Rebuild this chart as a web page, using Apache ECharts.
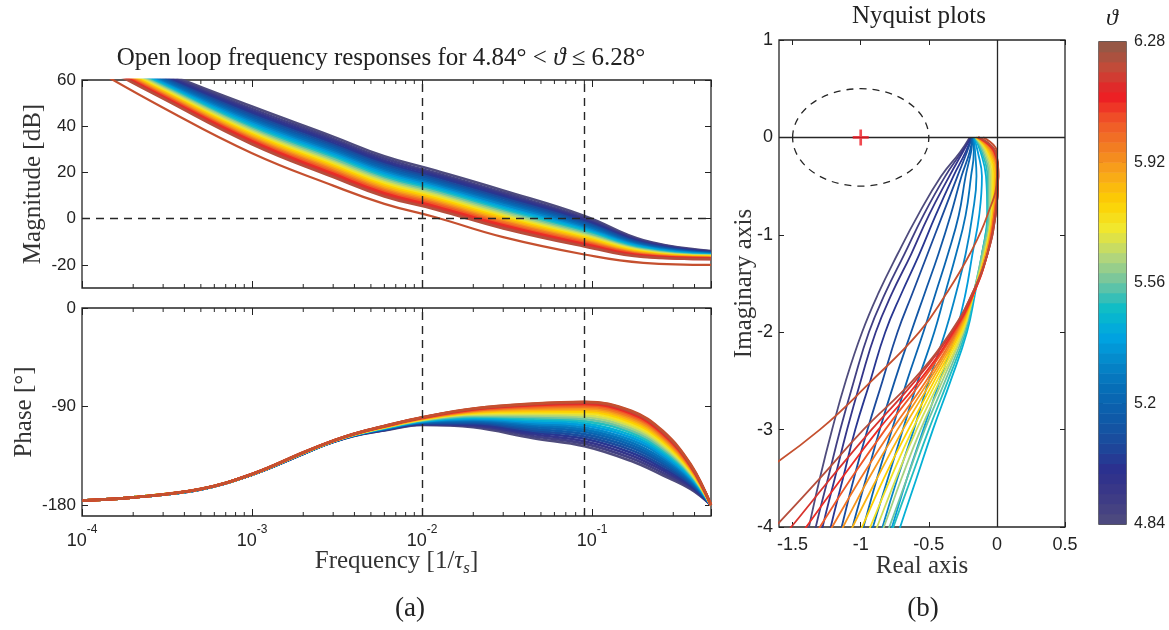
<!DOCTYPE html>
<html><head><meta charset="utf-8">
<script src="https://cdn.jsdelivr.net/npm/echarts@6/dist/echarts.min.js"></script>
<style>html,body{margin:0;padding:0;background:#fff}#c{width:1169px;height:630px}</style>
</head><body><div id="c"></div>
<script>
// ---------- data ----------
const theta = [4.84, 4.90, 4.96, 5.02, 5.08, 5.14, 5.20, 5.26, 5.32, 5.38, 5.44, 5.50, 5.56, 5.62, 5.68, 5.74, 5.80, 5.86, 5.92, 5.98, 6.04, 6.10, 6.16, 6.22, 6.28];

const magFreq = [1e-4, 3e-4, 1e-3, 3e-3, 6e-3, 1.2e-2, 3e-2, 9e-2, 0.2, 0.5];
const magnitudeDb = [
  [79.0, 63.5, 48.5, 35.5, 27.0, 20.8, 12.2, 1.2, -9.3, -14.0],
  [78.5, 62.8, 47.5, 34.5, 26.0, 19.8, 11.2, 0.4, -9.7, -14.2],
  [78.1, 62.2, 46.6, 33.6, 25.1, 18.9, 10.4, -0.3, -10.1, -14.4],
  [77.6, 61.6, 45.7, 32.7, 24.2, 18.1, 9.6, -0.9, -10.5, -14.6],
  [77.2, 61.1, 44.9, 31.9, 23.4, 17.3, 8.8, -1.5, -10.8, -14.7],
  [76.8, 60.6, 44.1, 31.1, 22.6, 16.5, 8.0, -2.1, -11.2, -14.9],
  [76.5, 60.0, 43.3, 30.3, 21.8, 15.8, 7.3, -2.7, -11.5, -15.0],
  [76.1, 59.5, 42.6, 29.5, 21.0, 15.0, 6.6, -3.3, -11.8, -15.2],
  [75.7, 59.0, 41.8, 28.7, 20.3, 14.3, 5.9, -3.9, -12.1, -15.4],
  [75.3, 58.5, 41.1, 28.0, 19.5, 13.6, 5.1, -4.5, -12.4, -15.5],
  [75.0, 58.0, 40.3, 27.2, 18.8, 12.9, 4.5, -5.0, -12.8, -15.7],
  [74.6, 57.5, 39.6, 26.5, 18.0, 12.2, 3.8, -5.6, -13.1, -15.8],
  [74.3, 57.1, 38.9, 25.8, 17.3, 11.5, 3.1, -6.1, -13.4, -16.0],
  [73.9, 56.6, 38.3, 25.0, 16.6, 10.8, 2.4, -6.7, -13.7, -16.1],
  [73.6, 56.1, 37.6, 24.3, 15.9, 10.1, 1.7, -7.2, -14.0, -16.2],
  [73.2, 55.6, 37.0, 23.6, 15.2, 9.4, 1.0, -7.8, -14.3, -16.4],
  [72.9, 55.1, 36.4, 22.9, 14.5, 8.7, 0.4, -8.3, -14.6, -16.5],
  [72.5, 54.7, 35.8, 22.2, 13.7, 8.0, -0.3, -8.9, -14.9, -16.7],
  [72.2, 54.2, 35.2, 21.5, 13.0, 7.3, -1.0, -9.4, -15.2, -16.8],
  [71.8, 53.7, 34.6, 20.8, 12.3, 6.7, -1.6, -9.9, -15.5, -17.0],
  [71.5, 53.3, 34.1, 20.1, 11.7, 6.0, -2.3, -10.4, -15.7, -17.1],
  [71.2, 52.8, 33.5, 19.4, 11.0, 5.3, -2.9, -11.0, -16.0, -17.2],
  [70.8, 52.4, 32.9, 18.7, 10.3, 4.7, -3.6, -11.5, -16.3, -17.4],
  [70.5, 51.9, 32.2, 18.0, 9.6, 4.0, -4.2, -12.0, -16.6, -17.5],
  [67.8, 48.0, 28.3, 14.3, 6.4, 0.6, -8.0, -15.5, -19.1, -20.0]
];

const phaseFreq = [1e-4, 2e-4, 5e-4, 1e-3, 2e-3, 2.7e-3, 3.5e-3, 4.5e-3, 6e-3, 1e-2, 2e-2, 4.5e-2, 9e-2, 0.17, 0.26, 0.38, 0.5];
const phaseDeg = [
  [-176, -173, -165.7, -152.3, -133.3, -124.9, -119.1, -115.0, -111.8, -106.8, -109.0, -118.9, -126.2, -139.8, -152.8, -165.5, -180],
  [-176, -173, -165.7, -152.3, -133.2, -124.8, -119.0, -114.9, -111.6, -106.4, -108.0, -117.1, -123.9, -137.3, -150.6, -164.3, -180],
  [-176, -173, -165.7, -152.2, -133.2, -124.8, -118.9, -114.7, -111.4, -106.0, -107.1, -115.4, -121.7, -134.7, -148.4, -163.0, -180],
  [-176, -173, -165.6, -152.2, -133.1, -124.7, -118.9, -114.6, -111.1, -105.7, -106.2, -113.7, -119.5, -132.3, -146.2, -161.8, -180],
  [-176, -173, -165.6, -152.2, -133.0, -124.7, -118.8, -114.5, -110.9, -105.3, -105.3, -112.0, -117.4, -129.8, -144.1, -160.7, -180],
  [-176, -173, -165.6, -152.1, -133.0, -124.6, -118.7, -114.4, -110.7, -104.9, -104.4, -110.4, -115.2, -127.4, -141.9, -159.5, -180],
  [-176, -173, -165.6, -152.1, -132.9, -124.6, -118.6, -114.3, -110.5, -104.6, -103.5, -108.7, -113.1, -125.1, -139.9, -158.4, -180],
  [-176, -173, -165.5, -152.1, -132.8, -124.5, -118.6, -114.1, -110.3, -104.2, -102.6, -107.1, -111.1, -122.8, -137.8, -157.2, -180],
  [-176, -173, -165.5, -152.0, -132.8, -124.5, -118.5, -114.0, -110.1, -103.9, -101.8, -105.6, -109.1, -120.5, -135.8, -156.1, -180],
  [-176, -173, -165.5, -152.0, -132.7, -124.4, -118.4, -113.9, -109.9, -103.6, -100.9, -104.0, -107.1, -118.3, -133.9, -155.0, -180],
  [-176, -173, -165.5, -152.0, -132.6, -124.4, -118.4, -113.8, -109.7, -103.2, -100.1, -102.5, -105.2, -116.1, -132.0, -154.0, -180],
  [-176, -173, -165.5, -152.0, -132.6, -124.3, -118.3, -113.7, -109.5, -102.9, -99.3, -101.0, -103.3, -113.9, -130.1, -152.9, -180],
  [-176, -173, -165.5, -151.9, -132.5, -124.3, -118.2, -113.6, -109.3, -102.6, -98.5, -99.6, -101.4, -111.9, -128.3, -151.9, -180],
  [-176, -173, -165.4, -151.9, -132.4, -124.2, -118.2, -113.5, -109.2, -102.3, -97.8, -98.2, -99.6, -109.8, -126.5, -151.0, -180],
  [-176, -173, -165.4, -151.9, -132.4, -124.2, -118.1, -113.4, -109.0, -102.0, -97.0, -96.8, -97.9, -107.9, -124.8, -150.0, -180],
  [-176, -173, -165.4, -151.9, -132.3, -124.2, -118.1, -113.3, -108.8, -101.7, -96.3, -95.5, -96.2, -106.0, -123.1, -149.1, -180],
  [-176, -173, -165.4, -151.8, -132.3, -124.1, -118.0, -113.2, -108.7, -101.4, -95.6, -94.3, -94.6, -104.2, -121.5, -148.2, -180],
  [-176, -173, -165.4, -151.8, -132.2, -124.1, -117.9, -113.1, -108.5, -101.2, -95.0, -93.1, -93.0, -102.4, -119.9, -147.3, -180],
  [-176, -173, -165.4, -151.8, -132.2, -124.0, -117.9, -113.0, -108.4, -100.9, -94.3, -91.9, -91.5, -100.7, -118.5, -146.5, -180],
  [-176, -173, -165.3, -151.8, -132.1, -124.0, -117.8, -112.9, -108.2, -100.7, -93.8, -90.8, -90.1, -99.2, -117.1, -145.8, -180],
  [-176, -173, -165.3, -151.7, -132.1, -124.0, -117.8, -112.9, -108.1, -100.5, -93.2, -89.8, -88.8, -97.7, -115.8, -145.1, -180],
  [-176, -173, -165.3, -151.7, -132.1, -123.9, -117.8, -112.8, -108.0, -100.3, -92.7, -88.9, -87.7, -96.4, -114.7, -144.4, -180],
  [-176, -173, -165.3, -151.7, -132.0, -123.9, -117.7, -112.7, -107.9, -100.1, -92.3, -88.1, -86.7, -95.3, -113.7, -143.9, -180],
  [-176, -173, -165.3, -151.7, -132.0, -123.9, -117.7, -112.7, -107.8, -100.0, -92.0, -87.6, -86.0, -94.5, -113.0, -143.5, -180],
  [-176, -173, -165.2, -151.6, -131.8, -123.7, -117.5, -112.5, -107.7, -99.9, -91.8, -87.3, -85.6, -93.8, -112.2, -142.8, -180]
];

const nyqImag = [0, -0.15, -0.4, -0.8, -1.2, -1.6, -2.0, -2.5, -3.0, -3.5, -4.0, -4.4];
const nyqReal = [
  [-0.200, -0.27, -0.41, -0.58, -0.73, -0.87, -0.99, -1.11, -1.21, -1.30, -1.38, -1.44],
  [-0.195, -0.26, -0.38, -0.54, -0.68, -0.82, -0.94, -1.05, -1.15, -1.24, -1.33, -1.39],
  [-0.190, -0.25, -0.35, -0.50, -0.63, -0.77, -0.89, -1.00, -1.10, -1.19, -1.28, -1.34],
  [-0.186, -0.23, -0.32, -0.45, -0.57, -0.70, -0.82, -0.93, -1.04, -1.13, -1.22, -1.28],
  [-0.184, -0.22, -0.29, -0.40, -0.51, -0.62, -0.73, -0.84, -0.95, -1.05, -1.14, -1.21],
  [-0.180, -0.20, -0.26, -0.34, -0.43, -0.53, -0.63, -0.75, -0.86, -0.96, -1.06, -1.13],
  [-0.178, -0.19, -0.23, -0.28, -0.36, -0.45, -0.54, -0.66, -0.77, -0.88, -0.98, -1.06],
  [-0.174, -0.17, -0.19, -0.23, -0.30, -0.38, -0.46, -0.58, -0.69, -0.80, -0.91, -0.99],
  [-0.170, -0.16, -0.15, -0.18, -0.23, -0.30, -0.38, -0.50, -0.61, -0.73, -0.84, -0.92],
  [-0.168, -0.14, -0.11, -0.13, -0.18, -0.23, -0.30, -0.42, -0.54, -0.66, -0.77, -0.86],
  [-0.164, -0.12, -0.08, -0.07, -0.11, -0.16, -0.22, -0.34, -0.47, -0.59, -0.71, -0.80],
  [-0.162, -0.11, -0.07, -0.07, -0.11, -0.17, -0.23, -0.36, -0.50, -0.63, -0.76, -0.86],
  [-0.158, -0.10, -0.06, -0.06, -0.11, -0.17, -0.24, -0.38, -0.53, -0.66, -0.79, -0.90],
  [-0.157, -0.09, -0.05, -0.05, -0.10, -0.17, -0.25, -0.40, -0.56, -0.70, -0.83, -0.94],
  [-0.155, -0.08, -0.04, -0.04, -0.09, -0.17, -0.25, -0.42, -0.59, -0.74, -0.88, -0.99],
  [-0.151, -0.07, -0.03, -0.04, -0.09, -0.17, -0.26, -0.44, -0.62, -0.78, -0.93, -1.05],
  [-0.150, -0.06, -0.02, -0.03, -0.08, -0.17, -0.27, -0.46, -0.65, -0.83, -0.99, -1.12],
  [-0.146, -0.05, -0.01, -0.03, -0.08, -0.17, -0.28, -0.48, -0.69, -0.88, -1.06, -1.19],
  [-0.145, -0.04, 0.00, -0.02, -0.08, -0.17, -0.29, -0.50, -0.73, -0.94, -1.13, -1.28],
  [-0.141, -0.03, 0.00, -0.02, -0.07, -0.17, -0.30, -0.52, -0.77, -1.00, -1.21, -1.37],
  [-0.139, -0.02, 0.01, -0.02, -0.07, -0.17, -0.31, -0.55, -0.82, -1.07, -1.30, -1.48],
  [-0.138, -0.02, 0.01, -0.01, -0.07, -0.17, -0.32, -0.57, -0.87, -1.14, -1.40, -1.60],
  [-0.135, -0.01, 0.01, -0.01, -0.07, -0.18, -0.33, -0.60, -0.92, -1.22, -1.51, -1.75],
  [-0.133, -0.01, 0.01, -0.01, -0.07, -0.18, -0.34, -0.62, -0.98, -1.30, -1.63, -1.90],
  [-0.100, 0.00, 0.00, -0.07, -0.20, -0.37, -0.57, -0.92, -1.30, -1.78, -2.30, -2.70]
];

const crossoverFreq = [0.0128, 0.091];
const criticalPoint = [-1, 0];
const circleRadius = 0.5;

const colorbarLevels = [4.855, 4.885, 4.915, 4.945, 4.975, 5.005, 5.035, 5.065, 5.095, 5.125, 5.155, 5.185,
  5.215, 5.245, 5.275, 5.305, 5.335, 5.365, 5.395, 5.425, 5.455, 5.485, 5.515, 5.545,
  5.575, 5.605, 5.635, 5.665, 5.695, 5.725, 5.755, 5.785, 5.815, 5.845, 5.875, 5.905,
  5.935, 5.965, 5.995, 6.025, 6.055, 6.085, 6.115, 6.145, 6.175, 6.205, 6.235, 6.265];

const magTicks = [-20, 0, 20, 40, 60];
const phaseTicks = [-180, -90, 0];
const nyqRealTicks = [-1.5, -1, -0.5, 0, 0.5];
const cbarTicks = [4.84, 5.2, 5.56, 5.92, 6.28];
const cbarInnerTicks = [5.2, 5.56, 5.92];
const minorTickFreqs = [2e-4, 3e-4, 4e-4, 5e-4, 6e-4, 7e-4, 8e-4, 9e-4,
  2e-3, 3e-3, 4e-3, 5e-3, 6e-3, 7e-3, 8e-3, 9e-3,
  2e-2, 3e-2, 4e-2, 5e-2, 6e-2, 7e-2, 8e-2, 9e-2,
  2e-1, 3e-1, 4e-1];

// colormap, evenly spaced from 4.84 to 6.28
const cmap = ['#4f4c7d', '#3d3b85', '#2c2f8e', '#1b4a9c', '#0e5ba9', '#066cb6', '#0586c8', '#00a4e2',
  '#0abcc8', '#6ec4a2', '#b6d679', '#f0e830', '#fdd000', '#f9aa18', '#f27f22', '#f05828', '#ec1c24', '#c44a38', '#8c5a48'];

// ---------- styling ----------
const SERIF = "'Liberation Serif', 'DejaVu Serif', serif";
const SANS = "'Liberation Sans', Arial, sans-serif";
const INK = '#222';
const NAME_SIZE = 25;
const lastIdx = theta.length - 1;
function colorFor(i) {
  if (i === lastIdx) return '#c5502f';
  return echarts.color.lerp((theta[i] - 4.84) / (6.28 - 4.84), cmap);
}
const tick = (len, vals) => {
  const t = {show: true, inside: true, length: len, lineStyle: {color: INK, width: 1}};
  if (vals) t.customValues = vals;
  return t;
};
const noLine = {show: false, onZero: false};
const noSplit = {show: false};
const lab = (extra) => Object.assign({color: INK, fontFamily: SANS, fontSize: 17}, extra || {});
const nameStyle = {fontFamily: SERIF, fontSize: NAME_SIZE, color: '#333'};

function pow10Label(v) {
  const e = Math.log10(v);
  const r = Math.round(e);
  if (Math.abs(e - r) > 1e-6) return '';
  return '{b|10}{s|' + r + '}';
}

const grids = [
  {left: 82, top: 80, width: 629, height: 208},
  {left: 82, top: 308, width: 629, height: 208},
  {left: 779, top: 40, width: 286, height: 487},
  {left: 1099, top: 42, width: 27, height: 482}
].map(g => Object.assign(g, {show: true, borderColor: '#262626', borderWidth: 1.3, backgroundColor: 'transparent', containLabel: false}));

const logAxis = (gi, pos, extra) => Object.assign({
  type: 'log', logBase: 10, gridIndex: gi, position: pos, min: 1e-4, max: 0.5,
  axisLine: noLine, splitLine: noSplit, axisTick: tick(7), axisLabel: {show: false}
}, extra || {});

const xAxis = [
  logAxis(0, 'bottom'),
  logAxis(0, 'top'),
  logAxis(1, 'bottom', {
    axisLabel: {show: true, showMinLabel: true, margin: 8, formatter: pow10Label, color: INK,
      rich: {
        b: {fontFamily: SANS, fontSize: 18, color: INK, lineHeight: 26, verticalAlign: 'bottom'},
        s: {fontFamily: SANS, fontSize: 12, color: INK, lineHeight: 26, verticalAlign: 'top'}
      }},
    name: '{n|Frequency [1/}{i|τ}{u|s}{n|]}', nameLocation: 'middle', nameGap: 29, nameMoveOverlap: false,
    nameTextStyle: {rich: {
      n: {fontFamily: SERIF, fontSize: NAME_SIZE, color: '#333', lineHeight: 32, verticalAlign: 'middle'},
      i: {fontFamily: SERIF, fontSize: NAME_SIZE, fontStyle: 'italic', color: '#333', lineHeight: 32, verticalAlign: 'middle'},
      u: {fontFamily: SERIF, fontSize: 17, fontStyle: 'italic', color: '#333', lineHeight: 32, verticalAlign: 'bottom'}
    }}
  }),
  logAxis(1, 'top'),
  {type: 'value', gridIndex: 2, position: 'bottom', min: -1.6, max: 0.5, axisLine: noLine, splitLine: noSplit,
    axisTick: tick(5, nyqRealTicks), axisLabel: lab({customValues: nyqRealTicks, fontSize: 18, margin: 9}),
    name: 'Real axis', nameLocation: 'middle', nameGap: 27, nameMoveOverlap: false, nameTextStyle: nameStyle},
  {type: 'value', gridIndex: 2, position: 'top', min: -1.6, max: 0.5, axisLine: noLine, splitLine: noSplit,
    axisTick: tick(5, nyqRealTicks), axisLabel: {show: false}},
  {type: 'category', gridIndex: 3, data: ['cbar'], show: false}
];

const yAxis = [
  {type: 'value', gridIndex: 0, position: 'left', min: -30, max: 60, axisLine: noLine, splitLine: noSplit,
    axisTick: tick(6, magTicks), axisLabel: lab({customValues: magTicks, margin: 6}),
    name: 'Magnitude [dB]', nameLocation: 'middle', nameGap: 36, nameRotate: 90, nameMoveOverlap: false, nameTextStyle: nameStyle},
  {type: 'value', gridIndex: 0, position: 'right', min: -30, max: 60, axisLine: noLine, splitLine: noSplit,
    axisTick: tick(6, magTicks), axisLabel: {show: false}},
  {type: 'value', gridIndex: 1, position: 'left', min: -190, max: 0, axisLine: noLine, splitLine: noSplit,
    axisTick: tick(6, phaseTicks), axisLabel: lab({customValues: phaseTicks, margin: 6}),
    name: 'Phase [°]', nameLocation: 'middle', nameGap: 45, nameRotate: 90, nameMoveOverlap: false, nameTextStyle: nameStyle},
  {type: 'value', gridIndex: 1, position: 'right', min: -190, max: 0, axisLine: noLine, splitLine: noSplit,
    axisTick: tick(6, phaseTicks), axisLabel: {show: false}},
  {type: 'value', gridIndex: 2, position: 'left', min: -4, max: 1, interval: 1, axisLine: noLine, splitLine: noSplit,
    axisTick: tick(5), axisLabel: lab({fontSize: 18, margin: 6}),
    name: 'Imaginary axis', nameLocation: 'middle', nameGap: 22, nameRotate: 90, nameMoveOverlap: false, nameTextStyle: nameStyle},
  {type: 'value', gridIndex: 2, position: 'right', min: -4, max: 1, interval: 1, axisLine: noLine, splitLine: noSplit,
    axisTick: tick(5), axisLabel: {show: false}},
  {type: 'category', gridIndex: 3, data: colorbarLevels.map(String), show: false},
  {type: 'value', gridIndex: 3, position: 'right', min: 4.84, max: 6.28, axisLine: noLine, splitLine: noSplit,
    axisTick: tick(4, cbarInnerTicks), axisLabel: lab({customValues: cbarTicks, fontSize: 16, margin: 8})},
  {type: 'value', gridIndex: 3, position: 'left', min: 4.84, max: 6.28, axisLine: noLine, splitLine: noSplit,
    axisTick: tick(4, cbarInnerTicks), axisLabel: {show: false}}
];

const dashStyle = {type: [8, 6], color: '#262626', width: 1.4};
const series = [];

// magnitude
theta.forEach((t, i) => {
  const s = {type: 'line', xAxisIndex: 0, yAxisIndex: 0, symbol: 'none', smooth: 0.45, silent: true,
    data: magFreq.map((f, k) => [f, magnitudeDb[i][k]]),
    lineStyle: {width: i === lastIdx ? 2.2 : 2.6, color: colorFor(i)}};
  if (i === 0) s.markLine = {silent: true, symbol: 'none', label: {show: false}, lineStyle: dashStyle,
    data: crossoverFreq.map(f => ({xAxis: f})).concat([{yAxis: 0}])};
  series.push(s);
});
const minorTicks = (xi, yi, yRef) => ({type: 'custom', xAxisIndex: xi, yAxisIndex: yi, silent: true, clip: false,
  data: minorTickFreqs.map(f => [f, yRef]),
  renderItem: (p, api) => {
    const x = api.coord([api.value(0), api.value(1)])[0];
    const cs = p.coordSys;
    const st = {stroke: '#262626', lineWidth: 1};
    return {type: 'group', children: [
      {type: 'line', shape: {x1: x, y1: cs.y, x2: x, y2: cs.y + 4}, style: st},
      {type: 'line', shape: {x1: x, y1: cs.y + cs.height, x2: x, y2: cs.y + cs.height - 4}, style: st}
    ]};
  }});
series.push(minorTicks(0, 0, 0));

// phase
theta.forEach((t, i) => {
  const s = {type: 'line', xAxisIndex: 2, yAxisIndex: 2, symbol: 'none', smooth: 0.4, silent: true,
    data: phaseFreq.map((f, k) => [f, phaseDeg[i][k]]),
    lineStyle: {width: 2.6, color: colorFor(i)}};
  if (i === 0) s.markLine = {silent: true, symbol: 'none', label: {show: false}, lineStyle: dashStyle,
    data: crossoverFreq.map(f => ({xAxis: f}))};
  series.push(s);
});
series.push(minorTicks(2, 2, -90));

// nyquist
theta.forEach((t, i) => {
  const s = {type: 'line', xAxisIndex: 4, yAxisIndex: 4, symbol: 'none', smooth: 0.45, silent: true,
    data: nyqImag.map((y, k) => [nyqReal[i][k], y]),
    lineStyle: {width: 1.8, color: colorFor(i)}};
  if (i === 0) s.markLine = {silent: true, symbol: 'none', label: {show: false},
    lineStyle: {type: 'solid', color: '#262626', width: 1.3},
    data: [{xAxis: 0}, {yAxis: 0}]};
  series.push(s);
});
series.push({type: 'custom', xAxisIndex: 4, yAxisIndex: 4, silent: true, z: 6,
  data: [[criticalPoint[0], criticalPoint[1], circleRadius]],
  renderItem: (p, api) => {
    const c = api.coord([api.value(0), api.value(1)]);
    const e = api.coord([api.value(0) + api.value(2), api.value(1) + api.value(2)]);
    return {type: 'ellipse', shape: {cx: c[0], cy: c[1], rx: Math.abs(e[0] - c[0]), ry: Math.abs(c[1] - e[1])},
      style: {fill: 'none', stroke: '#262626', lineWidth: 1.3, lineDash: [7, 6]}};
  }});
series.push({type: 'scatter', xAxisIndex: 4, yAxisIndex: 4, silent: true, z: 7,
  data: [criticalPoint], symbol: 'path://M5,0H7V5H12V7H7V12H5V7H0V5H5Z', symbolSize: 16,
  itemStyle: {color: '#ee1c24'}});

// colorbar
const heatIdx = series.length;
series.push({type: 'heatmap', xAxisIndex: 6, yAxisIndex: 6, silent: true,
  data: colorbarLevels.map((v, k) => [0, k, v]), itemStyle: {borderWidth: 0}});

const txt = (x, y, text, size, extra) => ({type: 'text', x: x, y: y, silent: true,
  style: Object.assign({text: text, fontFamily: SERIF, fontSize: size, fill: '#222',
    textAlign: 'center', textVerticalAlign: 'middle', align: 'center', verticalAlign: 'middle'}, extra || {})});

const option = {
  animation: false,
  backgroundColor: '#fff',
  grid: grids,
  xAxis: xAxis,
  yAxis: yAxis,
  visualMap: [{type: 'continuous', show: false, min: 4.84, max: 6.28, dimension: 2, seriesIndex: heatIdx,
    inRange: {color: cmap}}],
  series: series,
  graphic: [
    txt(381, 58, 'Open loop frequency responses for 4.84° < {i|ϑ} ≤ 6.28°', 25,
      {rich: {i: {fontFamily: SERIF, fontSize: 25, fontStyle: 'italic', fill: '#222'}}}),
    txt(919, 16, 'Nyquist plots', 25),
    txt(410, 609, '(a)', 27),
    txt(923, 609, '(b)', 27),
    txt(1112, 19, 'ϑ', 24, {fontStyle: 'italic'})
  ]
};

const chart = echarts.init(document.getElementById('c'), null, {renderer: 'canvas', width: 1169, height: 630});
chart.setOption(option);
</script>
</body></html>
